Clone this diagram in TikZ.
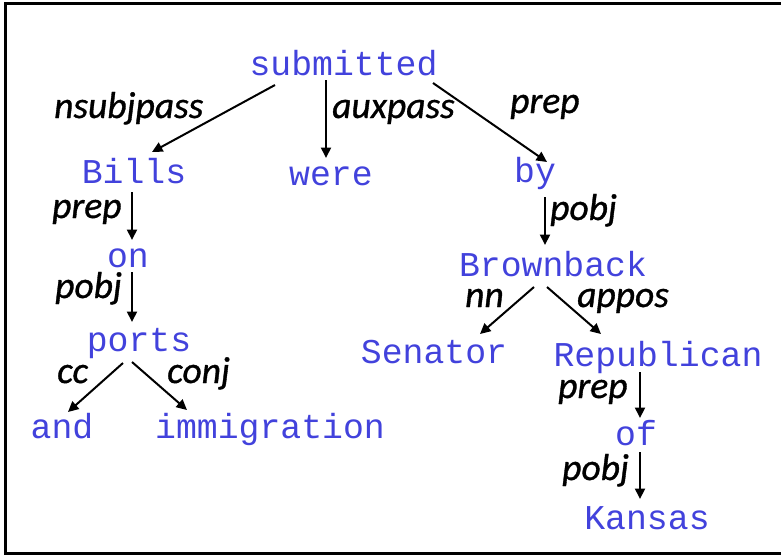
\documentclass[tikz,border=0pt]{standalone}
\usepackage{fontspec}
\setmainfont{Carlito}
\newfontfamily\wordfont{Liberation Mono}
\newfontfamily\relfont[ItalicFeatures={FakeBold=0.9}]{Carlito}
\usetikzlibrary{arrows.meta}
\definecolor{wordblue}{RGB}{66,66,220}
\tikzset{
  word/.style={anchor=base, inner sep=0pt, text=wordblue,
    font=\wordfont\fontsize{34.8}{40}\selectfont},
  rel/.style={anchor=base west, inner sep=0pt, text=black,
    font=\relfont\itshape\fontsize{37.5}{42}\selectfont},
  dep/.style={line width=2pt, -{Triangle[length=10.5pt,width=10pt]}},
}
\begin{document}
\begin{tikzpicture}[x=1pt,y=-1pt]
\useasboundingbox (0,0) rectangle (781,557);
% frame, open on the right
\draw[line width=2.8pt] (781,3.4) -- (5.6,3.4) -- (5.6,553.6) -- (781,553.6);

% words
\node[word] (submitted)  at (343.5,75) {submitted};
\node[word] (bills)      at (134,183)  {Bills};
\node[word] (were)       at (331,185)  {were};
\node[word] (by)         at (535,182)  {by};
\node[word] (on)         at (128,267)  {on};
\node[word] (ports)      at (139,351)  {ports};
\node[word] (and)        at (62,438)   {and};
\node[word] (immigration) at (270,438) {immigration};
\node[word] (brownback)  at (553,276)  {Brownback};
\node[word] (senator)    at (434,363)  {Senator};
\node[word] (republican) at (658,366)  {Republican};
\node[word] (of)         at (636,445)  {of};
\node[word] (kansas)     at (647,529)  {Kansas};

% relation labels
\node[rel] (l1)  at (54,118)  {nsubjpass};
\node[rel] (l2)  at (332,118) {auxpass};
\node[rel] (l3)  at (510,113) {prep};
\node[rel] (l4)  at (52,218)  {prep};
\node[rel] (l5)  at (55,298)  {pobj};
\node[rel] (l6)  at (57,383)  {cc};
\node[rel] (l7)  at (167,383) {conj};
\node[rel] (l8)  at (550,220) {pobj};
\node[rel] (l9)  at (465,307) {nn};
\node[rel] (l10) at (577,307) {appos};
\node[rel] (l11) at (558,398) {prep};
\node[rel] (l12) at (562,480) {pobj};

% dependency arcs
\draw[dep] ([shift={(-68.5,10)}]submitted.base) -- ([shift={(18,-31)}]bills.base);
\draw[dep] ([shift={(-17.5,5)}]submitted.base) -- ([shift={(-5,-27)}]were.base);
\draw[dep] ([shift={(89.5,8)}]submitted.base) -- ([shift={(12,-20)}]by.base);
\draw[dep] ([shift={(-2,9)}]bills.base) -- ([shift={(4,-27)}]on.base);
\draw[dep] ([shift={(4,5)}]on.base) -- ([shift={(-7,-29)}]ports.base);
\draw[dep] ([shift={(-16,12)}]ports.base) -- ([shift={(6,-26)}]and.base);
\draw[dep] ([shift={(-7,11)}]ports.base) -- ([shift={(-83,-28)}]immigration.base);
\draw[dep] ([shift={(10,15)}]by.base) -- ([shift={(-8,-31)}]brownback.base);
\draw[dep] ([shift={(-19,11)}]brownback.base) -- ([shift={(46,-29)}]senator.base);
\draw[dep] ([shift={(-6,11)}]brownback.base) -- ([shift={(-57,-32)}]republican.base);
\draw[dep] ([shift={(-18,6)}]republican.base) -- ([shift={(4,-27)}]of.base);
\draw[dep] ([shift={(4,7)}]of.base) -- ([shift={(-7,-30)}]kansas.base);
\end{tikzpicture}
\end{document}
